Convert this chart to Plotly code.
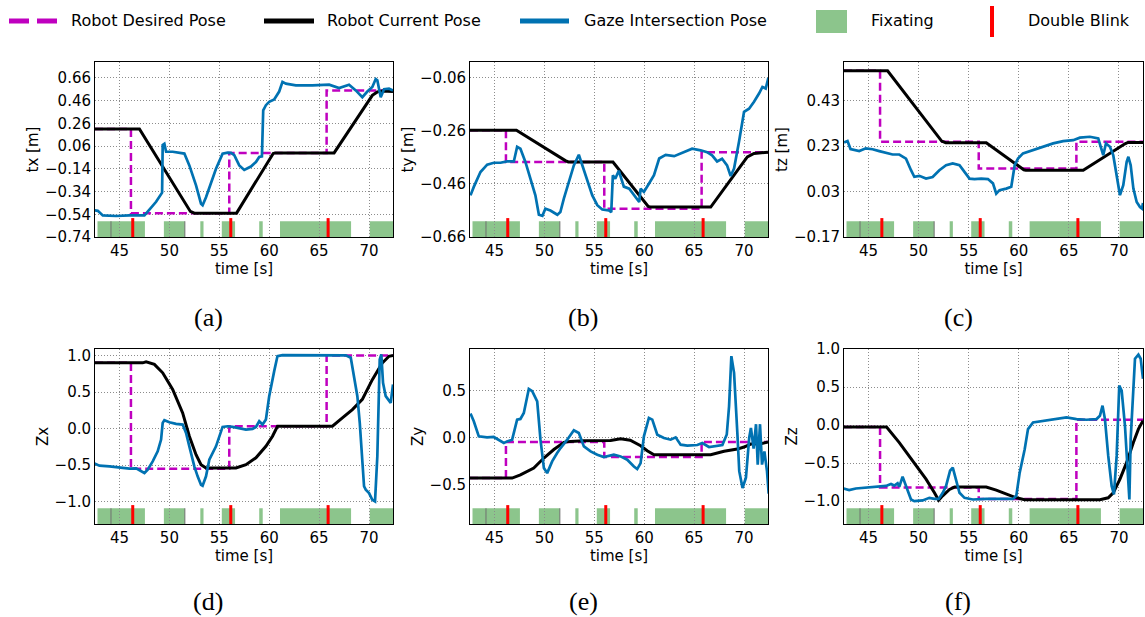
import plotly.graph_objects as go

# ---------------- data ----------------
X_RANGE = [42.55, 72.4]
X_TICKS = [45, 50, 55, 60, 65, 70]
X_TICKTEXT = ["45", "50", "55", "60", "65", "70"]

# Shared events
FIX_START = [42.8, 49.45, 53.1, 55.25, 59.0, 61.08, 70.07]
FIX_END = [47.55, 51.55, 53.42, 56.58, 59.35, 68.2, 72.6]
SINGLE_BLINK = [44.15, 51.55]
DOUBLE_BLINK = [46.33, 56.15, 65.9]
DESIRED_STEP_T = [46.15, 56.0, 65.75]

PANEL_LABEL = ["(a)", "(b)", "(c)", "(d)", "(e)", "(f)"]
Y_TITLE = ["tx [m]", "ty [m]", "tz [m]", "Zx", "Zy", "Zz"]
Y_RANGE = [[-0.74, 0.80], [-0.66, 0.0], [-0.17, 0.60],
           [-1.307, 1.09], [-0.923, 0.941], [-1.30, 1.0]]
Y_TICKS = [[-0.74, -0.54, -0.34, -0.14, 0.06, 0.26, 0.46, 0.66],
           [-0.66, -0.46, -0.26, -0.06],
           [-0.17, 0.03, 0.23, 0.43],
           [-1.0, -0.5, 0.0, 0.5, 1.0],
           [-0.5, 0.0, 0.5],
           [-1.0, -0.5, 0.0, 0.5, 1.0]]
Y_TICKTEXT = [["−0.74", "−0.54", "−0.34", "−0.14", "0.06", "0.26", "0.46", "0.66"],
              ["−0.66", "−0.46", "−0.26", "−0.06"],
              ["−0.17", "0.03", "0.23", "0.43"],
              ["−1.0", "−0.5", "0.0", "0.5", "1.0"],
              ["−0.5", "0.0", "0.5"],
              ["−1.0", "−0.5", "0.0", "0.5", "1.0"]]

# Desired pose levels (before first step, after each step)
DESIRED_V = [[0.21, -0.53, 0.0, 0.55],
             [-0.257, -0.377, -0.553, -0.34],
             [0.561, 0.249, 0.131, 0.249],
             [0.90, -0.549, 0.032, 1.0],
             [-0.434, -0.05, -0.21, -0.05],
             [-0.026, -0.82, -0.97, 0.07]]

# Robot current pose (time, value)
ROBOT_A = [(42.5, 0.21), (47.0, 0.21), (52.1, -0.515), (52.5, -0.53), (56.73, -0.53),
           (60.4, -0.005), (60.6, 0.0), (66.5, 0.0), (70.33, 0.507), (70.83, 0.537),
           (71.33, 0.545), (72.4, 0.54)]
ROBOT_B = [(42.5, -0.257), (47.2, -0.257), (52.1, -0.372), (52.4, -0.377), (56.87, -0.377),
           (60.4, -0.545), (60.6, -0.547), (66.66, -0.547), (70.33, -0.358), (71.0, -0.345),
           (72.4, -0.34)]
ROBOT_C = [(42.5, 0.561), (46.9, 0.561), (52.3, 0.252), (52.7, 0.245), (56.75, 0.245),
           (60.5, 0.126), (60.7, 0.124), (66.43, 0.124), (70.6, 0.24), (70.9, 0.246),
           (72.4, 0.246)]
ROBOT_D = [(42.5, 0.90), (47.33, 0.90), (47.67, 0.915), (48.5, 0.88), (49.33, 0.764),
           (50.33, 0.535), (51.33, 0.215), (52.0, -0.105), (52.67, -0.357), (53.17, -0.494),
           (53.67, -0.54), (56.67, -0.54), (57.67, -0.494), (58.67, -0.40), (59.67, -0.243),
           (60.33, -0.105), (60.83, 0.032), (66.33, 0.032), (67.33, 0.146), (68.33, 0.26),
           (69.33, 0.40), (70.33, 0.67), (71.33, 0.90), (72.0, 0.99), (72.4, 1.0)]
ROBOT_E = [(42.5, -0.434), (46.77, -0.434), (47.6, -0.40), (48.94, -0.327), (49.95, -0.22),
           (50.95, -0.13), (51.95, -0.053), (52.62, -0.043), (53.96, -0.036), (56.63, -0.034),
           (57.63, -0.014), (58.6, -0.03), (59.64, -0.089), (60.3, -0.142), (60.98, -0.185),
           (63.98, -0.189), (66.66, -0.186), (68.0, -0.149), (69.33, -0.125), (70.0, -0.103),
           (70.67, -0.071), (71.67, -0.068), (72.4, -0.05)]
ROBOT_F = [(42.5, -0.026), (46.8, -0.026), (48.07, -0.23), (49.4, -0.47), (50.74, -0.71),
           (51.58, -0.89), (52.0, -0.987), (52.4, -0.93), (53.08, -0.846), (53.58, -0.815),
           (56.75, -0.815), (57.75, -0.855), (58.75, -0.91), (59.75, -0.956), (60.59, -0.98),
           (68.1, -0.98), (68.93, -0.956), (69.43, -0.89), (70.1, -0.71), (70.77, -0.49),
           (71.44, -0.23), (71.94, -0.053), (72.4, 0.057)]

# Gaze intersection pose (time, value)
GAZE_A = [(42.5, -0.505), (42.83, -0.51), (43.33, -0.55), (44.67, -0.555), (46.0, -0.55),
          (47.5, -0.55), (48.0, -0.50), (48.67, -0.43), (49.27, -0.35), (49.33, 0.07),
          (49.5, 0.08), (49.67, 0.01), (50.33, 0.01), (51.5, -0.006), (52.0, -0.11),
          (52.67, -0.285), (53.17, -0.447), (53.33, -0.46), (53.67, -0.39), (54.67, -0.14),
          (55.33, -0.006), (55.83, 0.003), (56.17, 0.0), (56.5, -0.02), (57.0, -0.11),
          (57.5, -0.15), (58.17, -0.12), (58.67, -0.08), (59.0, -0.036), (59.27, -0.03),
          (59.4, 0.375), (59.67, 0.42), (60.0, 0.45), (60.5, 0.47), (61.0, 0.54),
          (61.33, 0.625), (61.67, 0.61), (62.67, 0.595), (64.33, 0.595), (66.0, 0.60),
          (67.0, 0.57), (68.0, 0.60), (68.67, 0.55), (69.33, 0.49), (69.83, 0.54),
          (70.33, 0.58), (70.67, 0.65), (70.83, 0.64), (71.17, 0.49), (71.5, 0.56),
          (72.0, 0.565), (72.4, 0.55)]
GAZE_B = [(42.6, -0.503), (42.93, -0.471), (43.6, -0.415), (44.27, -0.387), (44.94, -0.38),
          (45.6, -0.38), (46.27, -0.375), (46.94, -0.375), (47.27, -0.32), (47.6, -0.327),
          (48.1, -0.377), (48.6, -0.44), (49.1, -0.503), (49.45, -0.576), (49.8, -0.58),
          (50.1, -0.553), (50.6, -0.56), (51.3, -0.576), (51.6, -0.566), (51.95, -0.515),
          (52.45, -0.452), (52.95, -0.39), (53.45, -0.35), (53.8, -0.39), (54.3, -0.446),
          (54.8, -0.503), (55.3, -0.54), (55.8, -0.556), (56.46, -0.56), (56.7, -0.566),
          (56.86, -0.427), (57.1, -0.44), (57.45, -0.41), (57.96, -0.47), (58.5, -0.478),
          (59.0, -0.503), (59.5, -0.528), (59.64, -0.478), (59.97, -0.49), (60.47, -0.459),
          (60.98, -0.427), (61.5, -0.364), (62.15, -0.35), (63.0, -0.355), (64.0, -0.34),
          (64.8, -0.327), (65.65, -0.333), (66.3, -0.34), (66.8, -0.352), (67.3, -0.375),
          (67.8, -0.365), (68.3, -0.39), (68.66, -0.43), (69.0, -0.402), (69.5, -0.30),
          (70.0, -0.188), (70.5, -0.176), (71.0, -0.15), (71.5, -0.119), (71.84, -0.094),
          (72.17, -0.1), (72.44, -0.06)]
GAZE_C = [(42.56, 0.246), (42.9, 0.252), (43.2, 0.217), (44.07, 0.208), (44.73, 0.22),
          (45.4, 0.216), (46.07, 0.208), (46.74, 0.202), (47.4, 0.193), (48.07, 0.193),
          (48.74, 0.175), (49.24, 0.124), (49.57, 0.095), (50.07, 0.099), (50.74, 0.087),
          (51.4, 0.094), (52.07, 0.124), (52.74, 0.146), (53.4, 0.154), (54.08, 0.146),
          (54.58, 0.117), (55.08, 0.087), (55.58, 0.085), (56.25, 0.087), (56.92, 0.085),
          (57.42, 0.066), (57.75, 0.021), (58.08, 0.036), (58.75, 0.043), (59.25, 0.051),
          (59.59, 0.146), (59.92, 0.175), (60.42, 0.198), (61.42, 0.212), (62.42, 0.227),
          (63.43, 0.242), (64.43, 0.252), (65.43, 0.256), (66.1, 0.267), (67.1, 0.271),
          (67.93, 0.264), (68.27, 0.22), (68.43, 0.19), (68.7, 0.242), (69.1, 0.227),
          (69.43, 0.19), (69.77, 0.102), (70.1, 0.014), (70.43, 0.058), (70.77, 0.161),
          (70.94, 0.183), (71.17, 0.146), (71.44, 0.043), (71.77, -0.016), (72.1, -0.038),
          (72.3, -0.045), (72.4, -0.02)]
GAZE_D = [(42.5, -0.48), (43.0, -0.508), (44.0, -0.517), (45.0, -0.53), (46.0, -0.549),
          (46.67, -0.545), (47.17, -0.586), (47.5, -0.609), (47.83, -0.563), (48.33, -0.449),
          (48.83, -0.311), (49.17, -0.151), (49.33, 0.078), (49.5, 0.114), (50.0, 0.087),
          (50.67, 0.064), (51.33, 0.055), (51.67, -0.06), (52.0, -0.243), (52.5, -0.517),
          (52.83, -0.654), (53.17, -0.769), (53.33, -0.783), (53.67, -0.654), (54.0, -0.426),
          (54.67, -0.243), (55.33, 0.023), (55.83, 0.032), (56.33, 0.023), (56.83, 0.009),
          (57.67, -0.014), (58.33, -0.005), (58.67, 0.023), (59.0, 0.10), (59.33, 0.055),
          (59.67, 0.124), (60.0, 0.444), (60.5, 0.787), (60.83, 0.993), (61.33, 1.007),
          (62.67, 1.007), (64.33, 1.003), (66.0, 1.003), (67.67, 1.003), (68.17, 0.97),
          (68.5, 0.673), (68.83, 0.444), (69.07, 0.078), (69.33, -0.517), (69.5, -0.79),
          (69.67, -0.837), (70.0, -0.883), (70.33, -0.975), (70.6, -0.998), (70.83, -0.38),
          (71.07, 0.947), (71.23, 1.016), (71.4, 0.627), (71.67, 0.444), (72.0, 0.375),
          (72.17, 0.352), (72.4, 0.604)]
GAZE_E = [(42.6, 0.253), (42.93, 0.171), (43.43, 0.011), (44.26, 0.0), (44.93, 0.004),
          (45.43, -0.025), (45.94, -0.06), (46.27, -0.043), (46.77, -0.025), (47.27, 0.189),
          (47.6, 0.196), (47.94, 0.26), (48.44, 0.516), (48.78, 0.491), (49.28, 0.384),
          (49.61, -0.025), (49.95, -0.327), (50.28, -0.381), (50.78, -0.256), (51.28, -0.167),
          (51.62, -0.114), (52.29, -0.025), (52.95, 0.075), (53.45, 0.046), (53.96, -0.096),
          (54.63, -0.149), (55.3, -0.185), (55.96, -0.21), (56.46, -0.196), (56.96, -0.185),
          (57.63, -0.203), (58.3, -0.238), (58.97, -0.31), (59.3, -0.338), (59.64, -0.274),
          (59.97, 0.011), (60.47, 0.206), (60.81, 0.189), (61.31, 0.028), (61.98, -0.007),
          (62.65, -0.025), (63.15, 0.0), (63.65, -0.078), (64.32, -0.089), (65.32, -0.082),
          (65.82, -0.06), (66.49, -0.103), (67.16, -0.096), (67.83, -0.082), (68.27, 0.03),
          (68.5, 0.331), (68.73, 0.865), (69.0, 0.687), (69.33, 0.046), (69.52, -0.36),
          (69.85, -0.54), (70.19, -0.43), (70.52, 0.0), (70.69, 0.1), (70.96, -0.12),
          (71.2, 0.14), (71.37, -0.29), (71.6, 0.14), (71.8, -0.29), (72.04, -0.15),
          (72.3, -0.36), (72.47, -0.6)]
GAZE_F = [(42.5, -0.833), (43.06, -0.855), (43.73, -0.833), (44.73, -0.824), (45.73, -0.81),
          (46.74, -0.80), (47.24, -0.775), (47.57, -0.795), (47.9, -0.765), (48.07, -0.81),
          (48.4, -0.678), (48.74, -0.81), (49.24, -0.978), (49.57, -1.0), (50.4, -0.99),
          (51.07, -0.956), (51.58, -0.97), (52.0, -0.97), (52.41, -0.89), (52.74, -0.80),
          (53.14, -0.60), (53.41, -0.56), (53.68, -0.71), (54.08, -0.89), (54.58, -0.956),
          (55.41, -0.978), (56.75, -0.97), (58.08, -0.97), (59.42, -0.97), (59.75, -0.93),
          (60.09, -0.625), (60.59, -0.317), (60.92, -0.053), (61.42, 0.035), (62.42, 0.057),
          (63.76, 0.079), (64.76, 0.10), (65.76, 0.079), (66.76, 0.07), (67.76, 0.079),
          (68.1, 0.123), (68.36, 0.255), (68.6, 0.079), (68.93, -0.405), (69.27, -0.80),
          (69.5, -0.91), (69.77, -0.405), (70.03, 0.52), (70.27, 0.454), (70.6, -0.009),
          (70.93, -0.67), (71.04, -0.978), (71.17, -0.185), (71.37, 0.388), (71.6, 0.872),
          (71.94, 0.925), (72.17, 0.872), (72.4, 0.608)]

ROBOT = [ROBOT_A, ROBOT_B, ROBOT_C, ROBOT_D, ROBOT_E, ROBOT_F]
GAZE = [GAZE_A, GAZE_B, GAZE_C, GAZE_D, GAZE_E, GAZE_F]

LEGEND_LABELS = ["Robot Desired Pose", "Robot Current Pose", "Gaze Intersection Pose",
                 "Fixating", "Double Blink"]

# ---------------- style / layout ----------------
W, H = 1145, 617
MAGENTA = "#bf00bf"
BLUE = "#0072b2"
GREEN = "#8cc58c"
RED = "#ff0000"
GRID = "#8c8c8c"
FONT = "DejaVu Sans"
SERIF = "Liberation Serif"

COL_PX = [(95, 393), (470, 768), (844, 1143)]
ROW_PX = [(62, 237), (349, 524)]
CAPTION_X = [208, 583, 958]
CAPTION_Y = [317, 601]


def px(x):
    return x / W


def py(y):
    return 1 - y / H


fig = go.Figure()
shapes = []
annotations = []
layout = dict(width=W, height=H, autosize=False,
              margin=dict(l=0, r=0, t=0, b=0),
              paper_bgcolor="white", plot_bgcolor="white",
              showlegend=False)

for i in range(6):
    r, c = divmod(i, 3)
    sfx = "" if i == 0 else str(i + 1)
    xa, ya = "x" + sfx, "y" + sfx
    x0p, x1p = COL_PX[c]
    y0p, y1p = ROW_PX[r]

    # desired (step)
    dt = [X_RANGE[0]] + DESIRED_STEP_T + [X_RANGE[1]]
    dv = DESIRED_V[i] + [DESIRED_V[i][-1]]
    fig.add_trace(go.Scatter(x=dt, y=dv, xaxis=xa, yaxis=ya, mode="lines",
                             line=dict(color=MAGENTA, width=2.5, dash="8px,4px", shape="hv"),
                             hoverinfo="skip"))
    rt, rv = zip(*ROBOT[i])
    fig.add_trace(go.Scatter(x=rt, y=rv, xaxis=xa, yaxis=ya, mode="lines",
                             line=dict(color="black", width=3), hoverinfo="skip"))
    gt, gv = zip(*GAZE[i])
    fig.add_trace(go.Scatter(x=gt, y=gv, xaxis=xa, yaxis=ya, mode="lines",
                             line=dict(color=BLUE, width=2.7), hoverinfo="skip"))

    # fixation bars + blinks
    for s, e in zip(FIX_START, FIX_END):
        shapes.append(dict(type="rect", xref=xa, yref=ya + " domain",
                           x0=s, x1=e, y0=0, y1=0.09, fillcolor=GREEN,
                           line=dict(width=0), layer="below"))
    for b in SINGLE_BLINK:
        shapes.append(dict(type="line", xref=xa, yref=ya + " domain",
                           x0=b, x1=b, y0=0, y1=0.09,
                           line=dict(color="#707070", width=1), layer="below"))
    for b in DOUBLE_BLINK:
        shapes.append(dict(type="line", xref=xa, yref=ya + " domain",
                           x0=b, x1=b, y0=0, y1=0.108,
                           line=dict(color=RED, width=3), layer="below"))

    layout["xaxis" + sfx] = dict(
        domain=[px(x0p), px(x1p)], anchor=ya, range=X_RANGE, automargin=False,
        tickmode="array", tickvals=X_TICKS, ticktext=X_TICKTEXT,
        showgrid=True, gridcolor=GRID, griddash="1px,2px", gridwidth=1,
        showline=True, linecolor="black", linewidth=1, mirror=True,
        zeroline=False, ticks="",
        tickfont=dict(family=FONT, size=15, color="black"),
        title=dict(text="time [s]", font=dict(family=FONT, size=15, color="black"),
                   standoff=4))
    layout["yaxis" + sfx] = dict(
        domain=[py(y1p), py(y0p)], anchor=xa, range=Y_RANGE[i], automargin=False,
        tickmode="array", tickvals=Y_TICKS[i], ticktext=Y_TICKTEXT[i],
        showgrid=True, gridcolor=GRID, griddash="1px,2px", gridwidth=1,
        showline=True, linecolor="black", linewidth=1, mirror=True,
        zeroline=False, ticks="",
        tickfont=dict(family=FONT, size=15, color="black"),
        title=dict(text=Y_TITLE[i], font=dict(family=FONT, size=15, color="black"),
                   standoff=2))

    annotations.append(dict(
        xref="paper", yref="paper", x=px(CAPTION_X[c]), y=py(CAPTION_Y[r]),
        text=PANEL_LABEL[i], showarrow=False, xanchor="center", yanchor="middle",
        font=dict(family=SERIF, size=26, color="black")))

# ---------------- legend (drawn in paper space) ----------------
LY = 21
shapes += [
    dict(type="line", xref="paper", yref="paper", x0=px(9), x1=px(58), y0=py(LY), y1=py(LY),
         line=dict(color=MAGENTA, width=5, dash="20px,8px")),
    dict(type="line", xref="paper", yref="paper", x0=px(264), x1=px(314), y0=py(LY), y1=py(LY),
         line=dict(color="black", width=5)),
    dict(type="line", xref="paper", yref="paper", x0=px(520), x1=px(569), y0=py(LY), y1=py(LY),
         line=dict(color=BLUE, width=5)),
    dict(type="rect", xref="paper", yref="paper", x0=px(816), x1=px(847), y0=py(33), y1=py(10),
         fillcolor=GREEN, line=dict(width=0)),
    dict(type="line", xref="paper", yref="paper", x0=px(992), x1=px(992), y0=py(37), y1=py(6),
         line=dict(color=RED, width=4)),
]
for lbl, x in zip(LEGEND_LABELS, [69, 325, 582, 869, 1026]):
    annotations.append(dict(
        xref="paper", yref="paper", x=px(x), y=py(LY), text=lbl, showarrow=False,
        xanchor="left", yanchor="middle", font=dict(family=FONT, size=16, color="black")))

layout["shapes"] = shapes
layout["annotations"] = annotations
fig.update_layout(**layout)
fig.write_html("out.html", config={"responsive": False},
               post_script="document.body.style.margin='0';"
                           "document.body.style.overflow='hidden';")
